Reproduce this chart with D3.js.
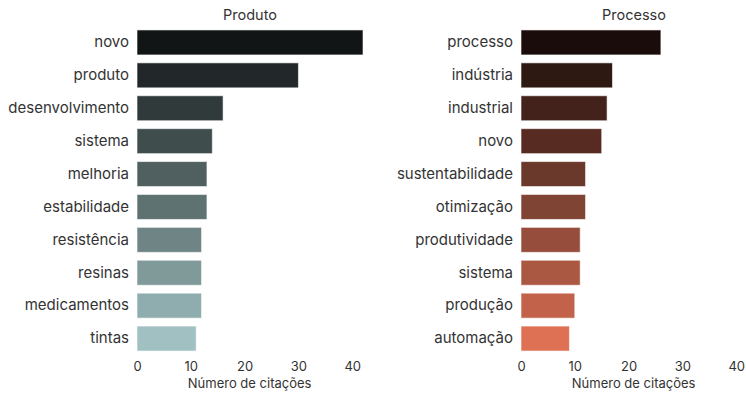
<!DOCTYPE html>
<html><head><meta charset="utf-8">
<script src="https://cdn.jsdelivr.net/npm/d3@7"></script>
<style>body{margin:0;background:#fff}svg{display:block}</style>
</head><body><svg id="c" width="746" height="394"></svg>
<script>
const produtoTerms = ["novo","produto","desenvolvimento","sistema","melhoria","estabilidade","resistência","resinas","medicamentos","tintas"];
const produtoValues = [42,30,16,14,13,13,12,12,12,11];
const produtoColors = ["#111516","#22282a","#313a3b","#404d4d","#505f5f","#5e7272","#6e8485","#809999","#8fadae","#a0c0c2"];
const processoTerms = ["processo","indústria","industrial","novo","sustentabilidade","otimização","produtividade","sistema","produção","automação"];
const processoValues = [26,17,16,15,12,12,11,11,10,9];
const processoColors = ["#1a0c0a","#2d1812","#42221a","#572b22","#6b382c","#804435","#964d3c","#ab5843","#c3624a","#de7054"];
const xTicks = [0,10,20,30,40];
const panelTitles = ["Produto","Processo"];
const xLabel = "Número de citações";

const svg = d3.select("#c");
const font = "Inter, 'Liberation Sans', sans-serif";
const panels = [
  {title: panelTitles[0], terms: produtoTerms, values: produtoValues, colors: produtoColors, x0: 137, x1: 363},
  {title: panelTitles[1], terms: processoTerms, values: processoValues, colors: processoColors, x0: 521, x1: 747}
];
const xMax = d3.max(produtoValues.concat(processoValues));
panels.forEach(p => {
  const x = d3.scaleLinear().domain([0, xMax]).range([p.x0, p.x1]);
  const y = d3.scaleBand().domain(p.terms).range([26, 355]).paddingInner(0.24).paddingOuter(0.12);
  const g = svg.append("g");
  g.selectAll("rect").data(p.terms).join("rect")
    .attr("x", x(0)).attr("y", d => y(d))
    .attr("width", (d,i) => x(p.values[i]) - x(0))
    .attr("height", y.bandwidth())
    .attr("fill", (d,i) => p.colors[i])
    .attr("stroke", "#ffffff").attr("stroke-opacity", 0.6).attr("stroke-width", 1);
  const ya = g.append("g").attr("transform", `translate(${x(0)},0)`)
    .call(d3.axisLeft(y).tickSize(0).tickPadding(8));
  ya.select(".domain").remove();
  ya.selectAll("text").attr("font-family", font).attr("font-size", 15).attr("fill", "#333");
  const xa = g.append("g").attr("transform", `translate(0,360)`)
    .call(d3.axisBottom(x).tickValues(xTicks).tickSize(0).tickPadding(2));
  xa.select(".domain").remove();
  xa.selectAll("text").attr("font-family", font).attr("font-size", 13).attr("fill", "#333");
  g.append("text").attr("x", (p.x0 + p.x1)/2).attr("y", 20).attr("text-anchor", "middle")
    .attr("font-family", font).attr("font-size", 14.5).attr("fill", "#333").text(p.title);
  g.append("text").attr("x", (x(0) + x(40))/2 + 5).attr("y", 388).attr("text-anchor", "middle")
    .attr("font-family", font).attr("font-size", 13).attr("fill", "#333").text(xLabel);
});
</script></body></html>
